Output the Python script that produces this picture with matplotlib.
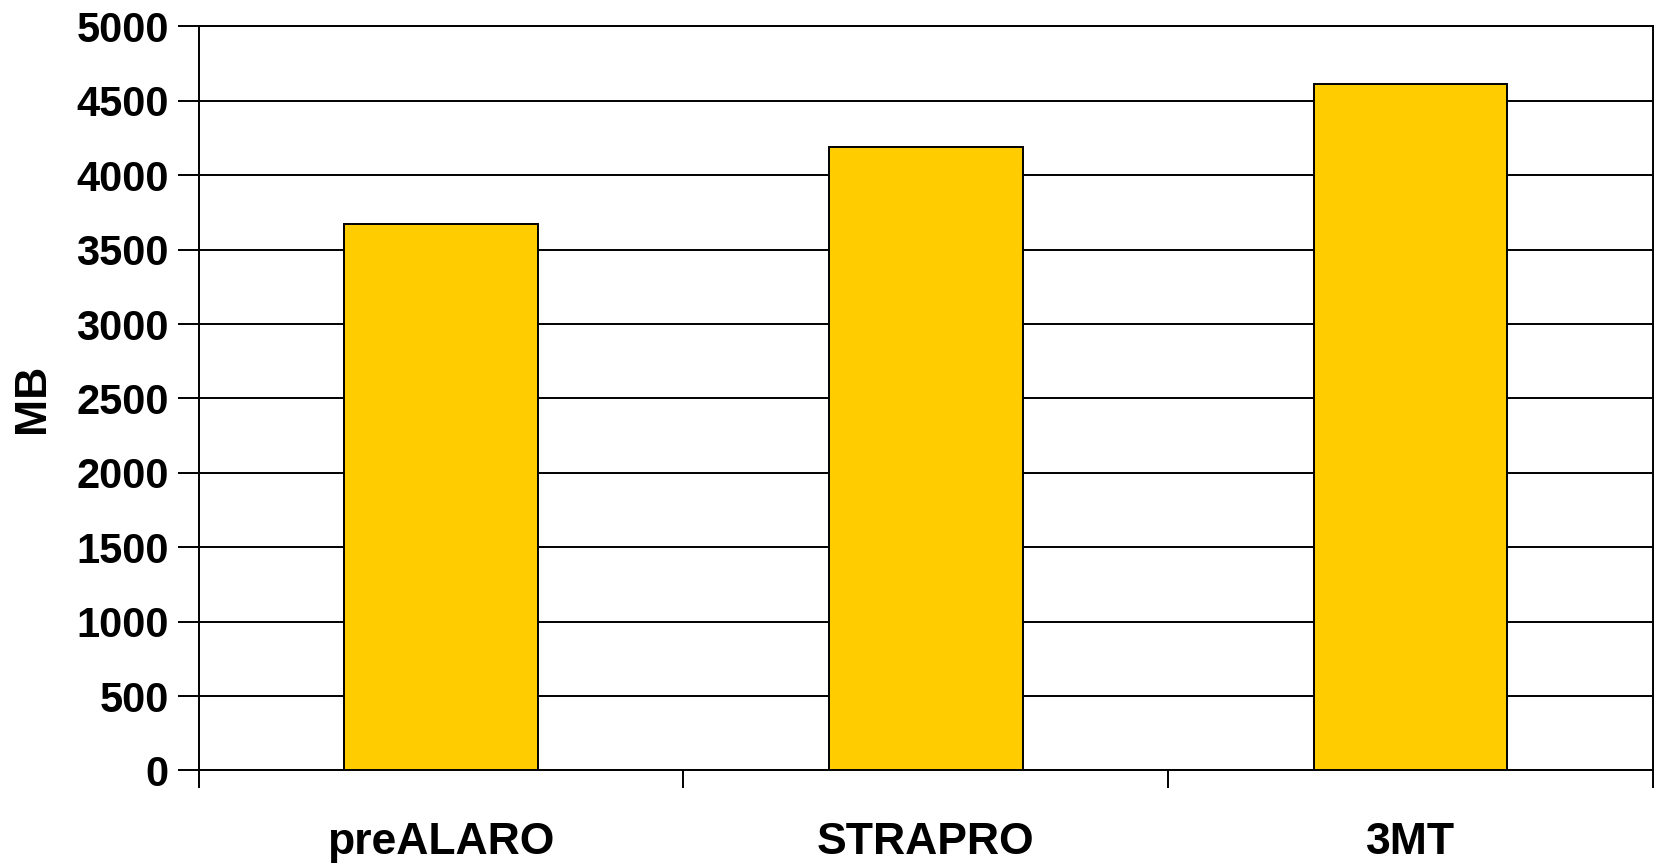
#!/usr/bin/env python3
"""Uso de memoria (MB) por configuracao - grafico de barras."""

import matplotlib
matplotlib.use("Agg")
import matplotlib.pyplot as plt

# dados
categorias = ["preALARO", "STRAPRO", "3MT"]
memoria_mb = [3670, 4190, 4610]
y_ticks = [0, 500, 1000, 1500, 2000, 2500, 3000, 3500, 4000, 4500, 5000]

FONTE = ["Liberation Sans", "DejaVu Sans"]


def main():
    fig = plt.figure(figsize=(16.57, 8.64), dpi=100)
    ax = fig.add_axes([0.1199, 0.1083, 0.8776, 0.8611])

    xs = list(range(len(categorias)))
    ax.bar(xs, memoria_mb, width=0.4, color="#FFCC00", edgecolor="black",
           linewidth=1.4, zorder=3)

    ax.set_xlim(-0.5, len(categorias) - 0.5)
    ax.set_ylim(0, 5000)

    # grade horizontal
    ax.set_yticks(y_ticks)
    ax.yaxis.grid(True, color="black", linewidth=1.4, zorder=0)
    ax.set_axisbelow(True)

    # marcas no eixo x entre categorias, rotulos no centro
    ax.set_xticks([i - 0.5 for i in range(len(categorias) + 1)])
    ax.set_xticklabels([])
    ax.set_xticks(xs, minor=True)
    ax.set_xticklabels(categorias, minor=True)
    ax.tick_params(axis="x", which="major", length=13, width=1.4, direction="out")
    ax.tick_params(axis="x", which="minor", length=0, pad=37)
    ax.tick_params(axis="y", length=15, width=1.4, direction="out", pad=6.5)

    for lbl in ax.get_yticklabels():
        lbl.set_family(FONTE)
        lbl.set_fontweight("bold")
        lbl.set_fontsize(30)
    for lbl in ax.get_xticklabels(minor=True):
        lbl.set_family(FONTE)
        lbl.set_fontweight("bold")
        lbl.set_fontsize(32)

    ax.set_ylabel("MB", family=FONTE, fontweight="bold", fontsize=32)
    ax.yaxis.set_label_coords(-0.100, 0.5)

    for s in ax.spines.values():
        s.set_linewidth(1.4)
        s.set_color("black")

    fig.savefig("out.png", dpi=100)


if __name__ == "__main__":
    main()
